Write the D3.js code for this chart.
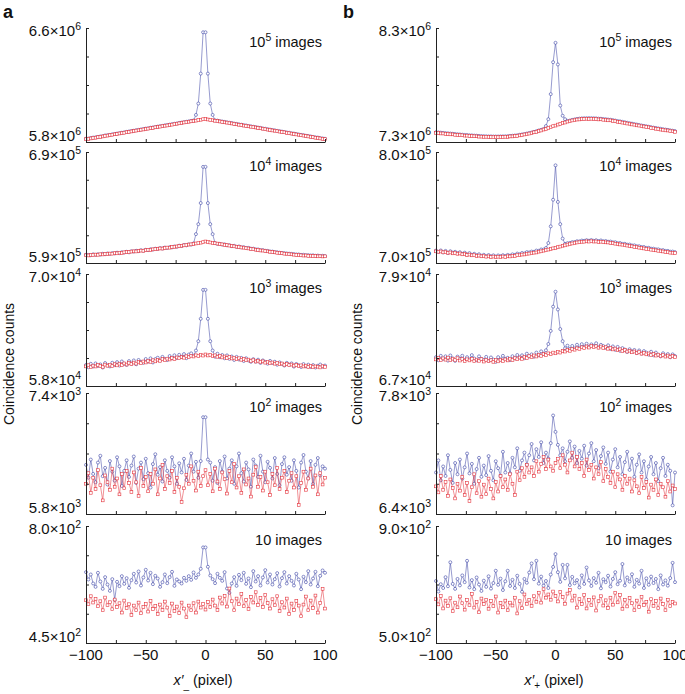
<!DOCTYPE html>
<html><head><meta charset="utf-8">
<script src="https://cdn.jsdelivr.net/npm/d3@7"></script>
<style>body{margin:0;background:#fff} text{font-family:"Liberation Sans",Arial,Helvetica,sans-serif;fill:#111}</style>
</head><body><svg id="c" width="685" height="694"></svg>
<script>
// x positions (pixel offset) shared by every series
const xValues = d3.range(-100, 101, 2);
const xTicks = [-100, -75, -50, -25, 0, 25, 50, 75, 100];
const xTickLabels = ["−100", "−50", "0", "50", "100"];
const xTickLabelValues = [-100, -50, 0, 50, 100];
const imageLabels = [["10", "5"], ["10", "4"], ["10", "3"], ["10", "2"], ["10", ""]];

// panel a : y domains, value units, tick labels
const aDomain = [[5.8e6, 6.6e6], [5.9e5, 6.9e5], [5.8e4, 7.0e4], [5.8e3, 7.4e3], [4.5e2, 8.0e2]];
const aUnit = [1e4, 1e3, 1e2, 1e1, 1];
const aTickLabels = [[["5.8", "6"], ["6.6", "6"]], [["5.9", "5"], ["6.9", "5"]], [["5.8", "4"], ["7.0", "4"]], [["5.8", "3"], ["7.4", "3"]], [["4.5", "2"], ["8.0", "2"]]];
// panel b
const bDomain = [[7.3e6, 8.3e6], [7.0e5, 8.0e5], [6.7e4, 7.9e4], [6.4e3, 7.8e3], [5.0e2, 9.0e2]];
const bUnit = [1e4, 1e3, 1e2, 1e1, 1];
const bTickLabels = [[["7.3", "6"], ["8.3", "6"]], [["7.0", "5"], ["8.0", "5"]], [["6.7", "4"], ["7.9", "4"]], [["6.4", "3"], ["7.8", "3"]], [["5.0", "2"], ["9.0", "2"]]];

// ---- series (in the panel's unit) ----
const a1Blue = [582.3,582.4,582.8,583.1,583.3,583.6,583.9,584.1,584.6,584.8,
585.0,585.4,585.6,585.9,586.2,586.5,586.8,587.1,587.4,587.7,
587.9,588.3,588.5,588.8,589.1,589.4,589.6,590.0,590.2,590.5,
590.8,591.1,591.3,591.7,591.9,592.2,592.5,592.8,593.0,593.4,
593.6,593.9,594.2,594.5,594.8,595.1,599.0,607.0,628.0,657.0,
657.0,
628.0,607.0,599.0,595.2,595.0,594.6,594.4,594.1,593.8,593.5,
593.3,592.9,592.7,592.4,592.1,591.8,591.6,591.2,591.0,590.7,
590.4,590.1,589.9,589.5,589.3,589.0,588.7,588.4,588.2,587.8,
587.6,587.3,587.0,586.7,586.5,586.1,585.9,585.6,585.3,585.0,
584.8,584.4,584.2,583.9,583.6,583.3,583.1,582.7,582.5,582.3];
const a1Red = [582.0,582.2,582.5,582.9,583.0,583.4,583.6,583.9,584.3,584.5,
584.8,585.1,585.4,585.6,586.0,586.2,586.5,586.9,587.1,587.4,
587.7,588.0,588.2,588.6,588.8,589.1,589.4,589.7,589.9,590.3,
590.5,590.8,591.1,591.4,591.6,592.0,592.2,592.5,592.8,593.1,
593.3,593.7,593.9,594.2,594.5,594.8,595.0,595.4,595.6,596.0,
596.2,
595.8,595.5,595.3,594.9,594.7,594.4,594.1,593.8,593.6,593.2,
593.0,592.7,592.4,592.1,591.9,591.5,591.3,591.0,590.7,590.4,
590.2,589.8,589.6,589.3,589.0,588.7,588.5,588.1,587.9,587.6,
587.3,587.0,586.8,586.4,586.2,585.9,585.6,585.3,585.1,584.7,
584.5,584.2,583.9,583.6,583.4,583.0,582.8,582.5,582.2,582.0];

const a2Blue = [597.4,597.2,597.0,597.8,597.3,597.9,597.5,598.3,597.9,598.6,
598.3,598.9,598.6,599.3,598.9,599.7,599.4,600.1,599.6,600.6,
600.3,601.0,600.7,601.5,601.1,601.9,601.6,602.4,602.1,602.9,
602.7,603.4,603.1,603.9,603.6,604.3,604.1,604.9,604.6,605.6,
605.3,606.2,605.9,606.8,606.6,607.6,616.0,625.0,644.0,676.6,
676.6,
644.0,625.0,616.0,607.9,607.2,607.3,606.6,606.8,605.9,606.1,
605.2,605.5,604.6,604.9,604.1,604.3,603.5,603.6,602.9,602.9,
602.3,602.2,601.6,601.6,601.0,600.9,600.4,600.3,599.8,599.7,
599.3,599.1,598.9,598.6,598.4,598.2,598.0,597.7,597.7,597.3,
597.4,597.0,597.1,596.8,596.9,596.5,596.7,596.3,596.5,596.2];
const a2Red = [597.0,596.8,597.3,597.1,597.6,597.4,597.9,597.7,598.2,598.0,
598.5,598.4,598.9,598.7,599.3,599.1,599.6,599.9,599.8,600.3,
600.5,600.4,600.9,601.2,601.0,601.6,601.9,601.7,602.3,602.5,
602.8,603.1,603.0,603.6,603.9,603.8,604.4,604.6,604.9,605.3,
605.5,605.9,606.1,606.6,606.8,607.2,607.6,607.9,608.3,608.8,
609.4,
608.9,608.5,608.1,607.8,607.5,607.0,606.8,606.3,606.1,605.7,
605.4,605.0,604.7,604.5,604.0,603.8,603.3,603.1,602.6,602.4,
602.0,601.8,601.3,601.2,600.7,600.5,600.1,599.9,599.6,599.2,
599.0,598.8,598.4,598.3,597.9,597.8,597.5,597.3,597.1,596.9,
596.7,596.8,596.4,596.5,596.2,596.3,596.0,596.1,595.9,596.0];

const a3Blue = [602.5,600.1,603.8,600.9,604.2,601.5,603.1,599.8,604.6,602.2,
601.0,604.9,602.4,605.6,601.9,606.3,603.8,602.6,606.7,604.1,
607.4,603.3,607.9,605.7,604.8,608.9,606.1,609.6,605.2,608.8,
610.3,607.4,611.2,608.9,607.8,612.1,609.7,612.9,610.0,613.4,
611.1,614.2,609.8,613.7,615.0,612.3,618.0,628.0,652.0,683.0,
683.0,
652.0,628.0,618.0,611.4,614.6,610.9,613.2,609.7,612.8,609.1,
611.6,607.9,611.2,608.4,610.1,606.8,609.7,607.3,605.9,608.8,
606.1,608.2,604.7,607.4,605.8,603.9,606.9,604.6,606.0,602.8,
605.3,603.9,601.9,604.8,602.7,604.2,600.8,603.6,602.2,600.4,
603.5,601.1,602.9,600.3,602.4,599.8,601.7,603.0,600.6,601.9];
const a3Red = [601.0,602.3,600.2,601.8,600.9,602.6,601.4,600.5,602.9,601.7,
602.8,601.3,603.4,602.1,603.9,602.5,604.2,603.0,604.8,603.6,
605.1,604.0,605.9,604.6,606.3,605.2,606.8,605.9,607.6,606.4,
608.1,607.0,608.9,607.6,609.3,608.4,610.1,609.0,610.6,609.8,
611.2,610.3,611.9,610.9,612.4,611.6,612.9,612.0,613.5,612.6,
613.8,
612.7,613.4,611.9,612.8,611.3,612.2,610.6,611.6,610.0,611.0,
609.5,610.3,608.8,609.7,608.1,609.0,607.6,608.3,606.9,607.7,
606.2,607.1,605.7,606.4,605.0,605.9,604.4,605.2,603.9,604.6,
603.3,604.1,602.7,603.6,602.3,603.0,601.8,602.6,601.3,602.1,
600.9,601.8,600.4,601.5,600.2,601.0,600.7,599.9,601.2,600.5];

const a4Blue = [645,628,652,633,622,648,657,630,641,619,
650,636,624,655,643,617,637,651,629,644,
656,621,640,648,626,653,634,615,646,659,
632,642,623,651,637,628,655,643,620,647,
635,653,625,644,660,636,649,628,650,708,
708,
652,648,624,642,621,650,636,656,627,640,
651,620,643,660,634,623,648,639,616,652,
644,629,657,636,622,649,641,627,654,633,
618,646,655,632,642,624,651,637,615,648,
658,636,627,650,620,645,654,631,643,640];
const a4Red = [620,634,608,628,613,638,618,598,631,622,
612,640,616,627,606,633,614,637,621,609,
635,622,604,641,617,629,610,633,620,639,
606,627,645,613,630,621,637,609,628,616,
596,614,632,620,643,624,611,636,617,630,
638,
618,633,610,640,623,613,635,626,607,637,
622,646,615,630,608,639,619,627,603,632,
642,616,629,611,636,622,605,633,618,641,
613,628,637,609,624,634,615,630,592,621,
636,612,627,640,616,631,606,634,619,628];

const a5Blue = [662,640,655,628,618,660,634,612,647,625,
606,641,579,633,620,650,627,644,615,638,
657,631,664,622,646,669,637,660,626,651,
643,618,632,655,629,647,663,621,640,634,
628,645,636,650,639,661,645,655,672,736,
736,
678,652,641,629,657,645,636,662,613,600,
628,647,621,654,638,660,627,643,617,665,
634,650,622,646,668,631,655,625,641,659,
619,644,662,628,650,636,622,657,640,611,
648,632,665,625,643,663,620,651,667,660];
const a5Red = [578,566,590,571,582,560,575,548,586,563,
572,551,580,558,569,541,577,555,566,534,
562,548,571,539,558,567,544,576,552,561,
537,565,549,574,556,531,568,546,559,540,
571,553,527,562,548,569,541,574,556,567,
550,
573,558,580,562,549,586,568,591,559,613,
575,548,583,566,597,560,579,552,588,571,
602,564,585,558,594,570,553,581,563,590,
546,572,556,583,537,568,549,576,562,530,
565,589,548,577,555,592,541,570,612,553];

const b1Blue = [738.6,738.4,738.2,738.0,737.8,737.6,737.4,737.2,737.0,736.8,
736.6,736.4,736.2,736.1,735.9,735.8,735.6,735.5,735.3,735.2,
735.1,735.0,734.9,734.9,734.8,734.8,734.8,734.9,734.9,735.0,
735.1,735.3,735.5,735.7,735.9,736.3,736.6,737.0,737.4,737.9,
738.3,738.9,739.5,740.1,740.7,741.4,744.0,750.0,772.0,800.0,
817.0,
798.0,762.0,753.0,750.0,748.5,748.8,749.4,749.8,750.2,750.5,
750.7,750.8,750.9,750.9,750.9,750.8,750.7,750.5,750.4,750.2,
750.0,749.7,749.5,749.2,748.8,748.4,748.1,747.7,747.3,746.9,
746.5,746.1,745.7,745.3,744.9,744.5,744.1,743.8,743.4,743.0,
742.6,742.3,741.9,741.6,741.2,740.9,740.6,740.2,739.9,739.6];
const b1Red = [738.0,737.9,737.5,737.5,737.1,737.1,736.7,736.7,736.3,736.2,
736.0,735.9,735.6,735.6,735.3,735.3,735.0,735.0,734.7,734.7,
734.5,734.6,734.3,734.4,734.2,734.4,734.2,734.4,734.3,734.6,
734.5,734.9,734.9,735.3,735.3,735.8,736.0,736.6,736.8,737.4,
737.7,738.5,738.9,739.7,740.1,740.9,741.4,742.4,742.9,743.9,
744.4,
745.3,745.8,746.6,747.1,747.9,748.2,748.9,749.1,749.7,749.8,
750.2,750.1,750.4,750.2,750.4,750.1,750.2,749.8,749.9,749.5,
749.5,749.0,749.0,748.5,748.3,747.7,747.6,747.0,746.8,746.2,
746.0,745.4,745.2,744.6,744.4,743.8,743.6,743.1,742.9,742.3,
742.1,741.6,741.4,740.9,740.7,740.2,740.1,739.5,739.4,738.9];

const b2Blue = [711.2,710.0,711.3,709.5,710.9,709.0,710.6,709.3,710.1,708.9,
709.7,708.2,709.3,707.6,708.9,707.2,708.3,707.0,707.9,706.5,
707.4,706.1,707.2,706.0,706.9,705.8,706.8,706.2,707.0,706.3,
707.3,706.6,707.8,707.3,708.5,707.9,709.0,708.6,709.8,709.5,
710.3,710.1,711.2,711.0,712.2,712.1,713.5,718.0,733.0,757.0,
788.0,
755.0,735.0,722.0,717.2,717.9,718.1,718.8,718.9,719.6,719.5,
720.2,720.0,720.6,720.1,720.7,720.0,720.5,719.8,720.3,719.6,
719.8,719.2,719.3,718.6,718.7,717.9,718.0,717.2,717.3,716.5,
716.6,715.8,715.9,715.1,715.1,714.4,714.4,713.6,713.7,712.9,
712.9,712.3,712.3,711.5,711.6,710.9,710.9,710.2,710.3,709.8];
const b2Red = [710.5,710.1,710.4,709.6,709.8,709.2,709.5,708.7,709.0,708.3,
708.6,707.8,708.1,707.3,707.6,706.9,707.1,706.4,706.7,706.0,
706.2,705.7,706.0,705.4,705.8,705.3,705.7,705.4,705.9,705.5,
706.1,705.9,706.5,706.4,707.1,707.0,707.6,707.7,708.3,708.5,
708.8,709.3,709.5,710.2,710.5,711.1,711.6,712.1,712.7,713.2,
713.6,
714.3,714.8,715.5,715.9,716.6,717.0,717.6,717.9,718.5,718.7,
719.1,719.2,719.5,719.3,719.6,719.3,719.4,719.0,719.2,718.9,
718.6,718.5,718.0,717.9,717.4,717.2,716.7,716.5,716.0,715.7,
715.3,715.0,714.5,714.3,713.8,713.5,713.1,712.7,712.4,712.0,
711.6,711.4,711.0,710.6,710.4,709.9,709.8,709.3,709.2,708.9];

const b3Blue = [700.9,697.6,702.3,699.1,701.8,697.2,702.7,699.6,696.9,701.5,
699.2,702.4,697.8,700.9,698.4,703.1,699.5,697.6,701.8,699.0,
697.9,701.2,696.8,700.6,698.3,695.9,700.9,698.4,702.3,699.1,
700.2,697.8,701.9,699.6,703.2,700.5,702.9,699.8,704.6,701.7,
703.9,701.4,705.8,702.9,707.1,704.6,708.3,715.0,729.0,755.0,
771.0,
752.0,731.0,718.0,710.4,713.2,709.6,712.9,710.1,714.2,711.0,
714.8,712.1,715.3,711.7,714.6,712.9,715.8,711.6,714.1,712.8,
710.9,713.6,709.7,712.4,708.8,711.9,707.7,710.6,709.0,706.5,
709.4,706.9,708.6,705.3,708.1,704.9,707.4,705.8,703.6,706.7,
702.9,705.8,703.5,701.7,705.1,702.4,704.2,700.8,703.9,702.1];
const b3Red = [698.5,700.1,697.9,699.6,698.2,700.4,697.6,699.3,698.0,699.8,
697.3,699.0,696.8,698.6,697.4,699.1,696.5,698.3,697.0,698.8,
696.2,698.0,696.5,697.6,695.9,697.8,696.4,698.1,696.9,698.5,
697.4,699.2,697.9,699.8,698.6,700.5,699.1,701.3,699.9,702.0,
700.8,702.7,701.6,703.5,702.3,704.4,703.2,705.0,704.1,705.8,
705.0,
706.7,705.8,707.6,706.9,708.5,707.7,709.6,708.9,710.4,709.8,
711.5,710.6,712.4,711.2,712.8,711.5,712.6,711.0,712.3,710.7,
711.6,709.9,710.8,709.2,710.1,708.4,709.3,707.6,708.7,706.9,
707.8,706.1,707.0,705.4,706.3,704.6,705.6,703.9,704.9,703.3,
704.2,702.6,703.6,702.0,703.1,701.5,702.6,701.1,702.2,700.9];

const b4Blue = [688,702,679,695,684,708,691,676,699,686,
703,681,694,710,687,698,675,692,705,683,
696,685,707,690,679,701,693,684,712,688,
699,687,705,694,716,690,702,711,697,708,
721,702,715,706,723,699,711,704,722,754,
735,
720,708,716,701,712,724,705,718,699,713,
704,719,696,710,722,701,714,693,707,717,
698,711,689,703,715,694,706,686,700,712,
691,704,683,697,709,688,701,680,695,706,
686,699,678,693,705,684,697,690,650,688];
const b4Red = [672,665,684,668,677,661,680,670,658,675,
667,683,662,676,655,671,686,664,678,660,
674,663,681,669,658,677,666,684,671,680,
668,686,675,662,689,679,693,683,697,688,
694,684,701,689,698,706,692,703,695,690,
699,
704,693,708,697,688,702,711,695,706,692,
699,684,703,691,697,681,694,686,700,678,
692,683,676,689,671,686,680,668,684,675,
681,666,679,672,664,683,670,677,659,674,
668,680,662,675,671,660,678,666,673,669];

const b5Blue = [712,676,701,688,725,694,776,702,685,719,
697,731,708,781,690,715,684,724,700,678,
713,692,728,686,705,747,699,720,681,711,
747,695,716,688,730,702,675,719,706,741,
772,718,781,703,727,696,712,688,734,760,
804,
742,709,767,721,767,698,726,704,715,690,
731,702,758,714,695,722,706,740,687,718,
708,730,693,719,742,701,713,770,697,724,
710,735,692,716,703,747,688,721,699,727,
705,719,684,731,700,714,696,722,774,708];
const b5Red = [650,632,661,618,645,627,653,609,638,622,
659,636,614,647,629,668,621,640,605,652,
633,648,617,644,626,659,604,637,622,645,
612,638,628,655,601,643,619,666,634,648,
627,660,641,672,638,684,655,666,648,676,
661,
642,675,657,634,669,681,645,662,621,650,
633,664,618,647,629,656,611,643,660,628,
646,620,655,631,672,639,664,617,648,625,
654,636,612,645,623,658,630,641,607,650,
627,644,619,652,633,612,648,626,640,635];

const aBlue = [a1Blue, a2Blue, a3Blue, a4Blue, a5Blue];
const aRed = [a1Red, a2Red, a3Red, a4Red, a5Red];
const bBlue = [b1Blue, b2Blue, b3Blue, b4Blue, b5Blue];
const bRed = [b1Red, b2Red, b3Red, b4Red, b5Red];

// ---- layout ----
const rowsY = [[28, 142], [152, 263], [274, 386], [393, 514], [526, 643]];
const colsX = [[86, 325], [436, 675]];
const BLUE = "#3d45a6", RED = "#e4333c";
const svg = d3.select("#c");

function drawPanel(cx, ry, domain, unit, blue, red, ticks, imgLab, showX) {
  const [x0, x1] = colsX[cx], [yt, yb] = rowsY[ry];
  const x = d3.scaleLinear().domain([-100, 100]).range([x0, x1]);
  const y = d3.scaleLinear().domain(domain).range([yb, yt]);
  const g = svg.append("g");
  const line = d3.line().x((d, i) => x(xValues[i])).y(d => y(d * unit));
  // blue series
  g.append("path").attr("d", line(blue)).attr("fill", "none").attr("stroke", BLUE).attr("stroke-width", 0.6).attr("opacity", 0.9);
  g.append("g").selectAll("circle").data(blue).join("circle")
    .attr("cx", (d, i) => x(xValues[i])).attr("cy", d => y(d * unit)).attr("r", 1.5)
    .attr("fill", "#fff").attr("stroke", BLUE).attr("stroke-width", 0.6);
  // red series
  g.append("path").attr("d", line(red)).attr("fill", "none").attr("stroke", RED).attr("stroke-width", 0.6).attr("opacity", 0.9);
  g.append("g").selectAll("rect").data(red).join("rect")
    .attr("x", (d, i) => x(xValues[i]) - 1.4).attr("y", d => y(d * unit) - 1.4).attr("width", 2.8).attr("height", 2.8)
    .attr("fill", "#fff").attr("stroke", RED).attr("stroke-width", 0.6);
  // axes
  const yTickVals = d3.range(5).map(k => domain[0] + (domain[1] - domain[0]) * k / 4);
  const ya = g.append("g").attr("transform", `translate(${x0},0)`)
    .call(d3.axisLeft(y).tickValues(yTickVals).tickSizeInner(-3).tickSizeOuter(0).tickFormat(""));
  const xa = g.append("g").attr("transform", `translate(0,${yb})`)
    .call(d3.axisBottom(x).tickValues(xTicks).tickSizeInner(-3).tickSizeOuter(0).tickFormat(""));
  [ya, xa].forEach(a => { a.selectAll("path,line").attr("stroke", "#222").attr("stroke-width", 1); });
  // y tick labels (bottom and top)
  const lab = (txt, ex, yy) => {
    const t = g.append("text").attr("x", x0 - 5).attr("y", yy).attr("text-anchor", "end").attr("font-size", 15);
    t.append("tspan").text(txt + "×10");
    t.append("tspan").attr("font-size", 10.5).attr("dy", -6).text(ex);
  };
  lab(ticks[0][0], ticks[0][1], yb - 1);
  lab(ticks[1][0], ticks[1][1], yt + 8);
  // images label
  const it = g.append("text").attr("x", x1 - 3).attr("y", yt + 19).attr("text-anchor", "end").attr("font-size", 14.5);
  it.append("tspan").text(imgLab[0]);
  if (imgLab[1]) it.append("tspan").attr("font-size", 10.5).attr("dy", -6).text(imgLab[1]);
  it.append("tspan").attr("dy", imgLab[1] ? 6 : 0).text(" images");
  if (showX) {
    g.append("g").selectAll("text").data(xTickLabelValues).join("text")
      .attr("x", d => x(d)).attr("y", yb + 17).attr("text-anchor", "middle").attr("font-size", 15)
      .text((d, i) => xTickLabels[i]);
  }
  return x;
}

for (let r = 0; r < 5; r++) {
  drawPanel(0, r, aDomain[r], aUnit[r], aBlue[r], aRed[r], aTickLabels[r], imageLabels[r], r === 4);
  drawPanel(1, r, bDomain[r], bUnit[r], bBlue[r], bRed[r], bTickLabels[r], imageLabels[r], r === 4);
}

// panel letters
svg.append("text").attr("x", 3).attr("y", 18).attr("font-size", 18).attr("font-weight", "bold").text("a");
svg.append("text").attr("x", 343).attr("y", 18).attr("font-size", 18).attr("font-weight", "bold").text("b");
// y labels
[14, 362].forEach(xx => {
  svg.append("text").attr("transform", `translate(${xx},364) rotate(-90)`).attr("text-anchor", "middle")
    .attr("font-size", 14).text("Coincidence counts");
});
// x labels
const xl = (cx, sub) => {
  const t = svg.append("text").attr("x", cx).attr("y", 685).attr("text-anchor", "middle").attr("font-size", 14.5);
  t.append("tspan").attr("font-style", "italic").text("x′");
  t.append("tspan").attr("font-size", 10).attr("dy", 4).text(sub);
  t.append("tspan").attr("dy", -4).text(" (pixel)");
};
xl(203, "_");
xl(554, "+");
</script></body></html>
